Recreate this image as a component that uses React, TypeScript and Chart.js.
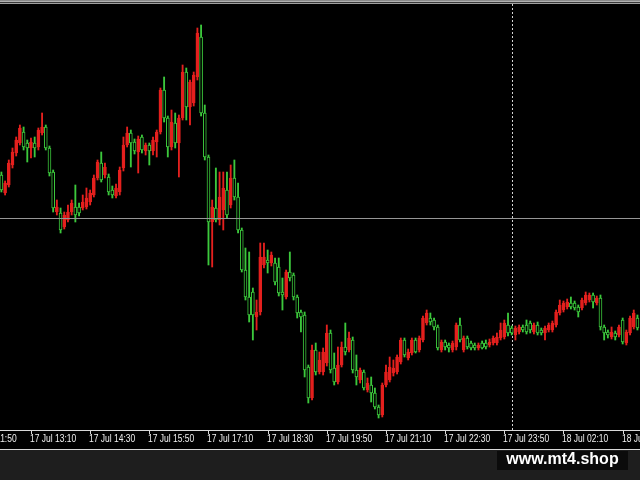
import React, { useEffect, useRef } from 'react';
import { Chart, registerables } from 'chart.js';

Chart.register(...registerables);

// ---- Data (M5 candles) ----
const OPEN = [
  1.3255,1.3237,1.3245,1.3265,1.3277,1.3287,1.3298,1.3287,1.3282,1.3287,
  1.3283,1.3297,1.3303,1.3282,1.3258,1.3218,1.3217,1.3203,1.3210,1.3218,
  1.3223,1.3223,1.3222,1.3223,1.3228,1.3235,1.3252,1.3267,1.3255,1.3253,
  1.3240,1.3234,1.3238,1.3262,1.3285,1.3297,1.3288,1.3278,1.3293,1.3279,
  1.3285,1.3279,1.3288,1.3298,1.3340,1.3312,1.3283,1.3307,1.3287,1.3312,
  1.3358,1.3323,1.3327,1.3353,1.3393,1.3317,1.3273,1.3208,1.3222,1.3210,
  1.3220,1.3240,1.3225,1.3252,1.3233,1.3200,1.3160,1.3133,1.3138,1.3113,
  1.3118,1.3165,1.3170,1.3167,1.3167,1.3163,1.3138,1.3133,1.3158,1.3155,
  1.3133,1.3118,1.3115,1.3063,1.3032,1.3080,1.3058,1.3058,1.3067,1.3097,
  1.3062,1.3048,1.3065,1.3083,1.3080,1.3090,1.3060,1.3050,1.3058,1.3040,
  1.3045,1.3037,1.3023,1.3015,1.3045,1.3050,1.3057,1.3058,1.3068,1.3090,
  1.3072,1.3077,1.3090,1.3080,1.3090,1.3107,1.3112,1.3110,1.3103,1.3080,
  1.3088,1.3085,1.3080,1.3083,1.3105,1.3080,1.3092,1.3087,1.3085,1.3082,
  1.3087,1.3087,1.3085,1.3087,1.3087,1.3092,1.3093,1.3105,1.3102,1.3095,
  1.3098,1.3103,1.3105,1.3107,1.3098,1.3105,1.3100,1.3097,1.3100,1.3100,
  1.3105,1.3117,1.3120,1.3123,1.3127,1.3127,1.3123,1.3122,1.3127,1.3130,
  1.3135,1.3127,1.3132,1.3103,1.3098,1.3093,1.3097,1.3095,1.3110,1.3087,
  1.3097,1.3103,1.3112,
];

const HIGH = [
  1.3258,1.3249,1.3270,1.3282,1.3293,1.3305,1.3303,1.3290,1.3292,1.3293,
  1.3302,1.3317,1.3305,1.3284,1.3260,1.3230,1.3222,1.3218,1.3225,1.3230,
  1.3245,1.3227,1.3235,1.3242,1.3240,1.3255,1.3270,1.3278,1.3267,1.3256,
  1.3244,1.3246,1.3263,1.3293,1.3303,1.3300,1.3291,1.3294,1.3295,1.3287,
  1.3287,1.3293,1.3300,1.3342,1.3353,1.3314,1.3320,1.3317,1.3315,1.3365,
  1.3362,1.3350,1.3358,1.3402,1.3405,1.3325,1.3275,1.3230,1.3262,1.3258,
  1.3258,1.3258,1.3265,1.3270,1.3247,1.3202,1.3182,1.3178,1.3142,1.3130,
  1.3187,1.3187,1.3180,1.3178,1.3172,1.3172,1.3152,1.3160,1.3178,1.3157,
  1.3135,1.3120,1.3118,1.3065,1.3085,1.3087,1.3078,1.3082,1.3105,1.3100,
  1.3077,1.3083,1.3088,1.3107,1.3098,1.3093,1.3075,1.3062,1.3060,1.3052,
  1.3053,1.3042,1.3025,1.3047,1.3065,1.3073,1.3070,1.3075,1.3092,1.3092,
  1.3081,1.3092,1.3092,1.3094,1.3114,1.3120,1.3117,1.3112,1.3105,1.3090,
  1.3090,1.3087,1.3089,1.3107,1.3112,1.3094,1.3094,1.3089,1.3087,1.3087,
  1.3089,1.3090,1.3091,1.3094,1.3097,1.3107,1.3110,1.3117,1.3104,1.3104,
  1.3105,1.3105,1.3110,1.3109,1.3107,1.3108,1.3102,1.3104,1.3107,1.3109,
  1.3120,1.3130,1.3129,1.3131,1.3133,1.3129,1.3125,1.3132,1.3138,1.3137,
  1.3137,1.3134,1.3135,1.3105,1.3100,1.3103,1.3099,1.3105,1.3112,1.3100,
  1.3114,1.3120,1.3115,
];

const LOW = [
  1.3238,1.3235,1.3243,1.3262,1.3274,1.3285,1.3280,1.3268,1.3272,1.3273,
  1.3280,1.3295,1.3280,1.3254,1.3218,1.3215,1.3197,1.3201,1.3208,1.3215,
  1.3208,1.3214,1.3220,1.3221,1.3225,1.3233,1.3250,1.3248,1.3252,1.3235,
  1.3232,1.3232,1.3235,1.3259,1.3283,1.3263,1.3276,1.3257,1.3277,1.3275,
  1.3265,1.3275,1.3273,1.3296,1.3308,1.3273,1.3280,1.3282,1.3253,1.3310,
  1.3310,1.3305,1.3324,1.3350,1.3314,1.3270,1.3165,1.3163,1.3208,1.3205,
  1.3200,1.3212,1.3222,1.3230,1.3197,1.3158,1.3130,1.3108,1.3090,1.3100,
  1.3115,1.3162,1.3157,1.3164,1.3145,1.3134,1.3120,1.3131,1.3149,1.3130,
  1.3112,1.3098,1.3053,1.3027,1.3030,1.3055,1.3056,1.3055,1.3064,1.3057,
  1.3045,1.3046,1.3063,1.3075,1.3078,1.3057,1.3045,1.3047,1.3040,1.3038,
  1.3028,1.3021,1.3012,1.3013,1.3043,1.3048,1.3054,1.3056,1.3066,1.3073,
  1.3070,1.3075,1.3077,1.3078,1.3088,1.3105,1.3105,1.3100,1.3080,1.3078,
  1.3080,1.3078,1.3078,1.3080,1.3088,1.3078,1.3081,1.3080,1.3080,1.3080,
  1.3081,1.3081,1.3083,1.3085,1.3085,1.3090,1.3091,1.3094,1.3095,1.3090,
  1.3096,1.3098,1.3096,1.3097,1.3096,1.3095,1.3095,1.3090,1.3098,1.3098,
  1.3103,1.3115,1.3118,1.3121,1.3121,1.3120,1.3113,1.3120,1.3125,1.3128,
  1.3122,1.3125,1.3100,1.3090,1.3092,1.3091,1.3090,1.3093,1.3086,1.3085,
  1.3095,1.3101,1.3100,
];

const CLOSE = [
  1.3240,1.3247,1.3267,1.3278,1.3290,1.3302,1.3283,1.3282,1.3288,1.3282,
  1.3300,1.3303,1.3282,1.3257,1.3222,1.3223,1.3200,1.3215,1.3218,1.3227,
  1.3215,1.3217,1.3228,1.3232,1.3237,1.3252,1.3268,1.3250,1.3263,1.3238,
  1.3235,1.3242,1.3260,1.3285,1.3297,1.3287,1.3279,1.3291,1.3280,1.3285,
  1.3279,1.3290,1.3298,1.3340,1.3312,1.3283,1.3308,1.3287,1.3312,1.3358,
  1.3323,1.3348,1.3355,1.3397,1.3317,1.3273,1.3208,1.3223,1.3210,1.3233,
  1.3242,1.3215,1.3252,1.3233,1.3200,1.3160,1.3133,1.3115,1.3115,1.3118,
  1.3173,1.3173,1.3167,1.3175,1.3148,1.3137,1.3135,1.3158,1.3152,1.3133,
  1.3117,1.3113,1.3060,1.3032,1.3080,1.3058,1.3070,1.3078,1.3097,1.3060,
  1.3048,1.3065,1.3083,1.3078,1.3092,1.3060,1.3053,1.3060,1.3042,1.3047,
  1.3037,1.3023,1.3015,1.3045,1.3058,1.3063,1.3062,1.3073,1.3090,1.3075,
  1.3078,1.3090,1.3078,1.3092,1.3112,1.3117,1.3108,1.3103,1.3082,1.3088,
  1.3083,1.3082,1.3087,1.3105,1.3090,1.3092,1.3083,1.3082,1.3082,1.3085,
  1.3082,1.3083,1.3088,1.3092,1.3093,1.3100,1.3107,1.3097,1.3097,1.3102,
  1.3103,1.3100,1.3098,1.3100,1.3105,1.3097,1.3097,1.3102,1.3105,1.3107,
  1.3118,1.3125,1.3127,1.3128,1.3123,1.3122,1.3118,1.3130,1.3135,1.3135,
  1.3128,1.3132,1.3103,1.3097,1.3095,1.3098,1.3093,1.3103,1.3088,1.3098,
  1.3112,1.3117,1.3102,
];

// time-axis labels: bar index -> text
const TICK_INDEX = [-8, 8, 24, 40, 56, 72, 88, 104, 120, 136, 152, 168];
const TICK_LABELS = [
  '17 Jul 11:50', '17 Jul 13:10', '17 Jul 14:30', '17 Jul 15:50',
  '17 Jul 17:10', '17 Jul 18:30', '17 Jul 19:50', '17 Jul 21:10',
  '17 Jul 22:30', '17 Jul 23:50', '18 Jul 02:10', '18 Jul 03:30',
];

const H_LINE_PRICE = 1.3212;   // horizontal line object
const DAY_SEPARATOR_INDEX = 138; // period separator (18 Jul 00:00)
const WATERMARK = 'www.mt4.shop';

const BULL_COLOR = '#e4201e';
const BEAR_COLOR = '#3cc83c';

const mt4Plugin = {
  id: 'mt4Frame',
  beforeDraw(chart: any) {
    const { ctx, width, height } = chart;
    ctx.save();
    ctx.fillStyle = '#000000';
    ctx.fillRect(0, 0, width, 450);
    ctx.fillStyle = '#1e1e1e';
    ctx.fillRect(0, 450, width, height - 450);
    ctx.restore();
  },
  beforeDatasetsDraw(chart: any) {
    const { ctx } = chart;
    const xs = chart.scales.x;
    const px = Math.round(xs.getPixelForValue(DAY_SEPARATOR_INDEX)) + 0.5;
    ctx.save();
    ctx.strokeStyle = '#d4d4d4';
    ctx.lineWidth = 1;
    ctx.setLineDash([2, 2]);
    ctx.beginPath();
    ctx.moveTo(px, 4);
    ctx.lineTo(px, 430);
    ctx.stroke();
    ctx.restore();
  },
  afterDatasetsDraw(chart: any) {
    const { ctx, width } = chart;
    const ys = chart.scales.y;
    const py = Math.round(ys.getPixelForValue(H_LINE_PRICE)) + 0.5;
    ctx.save();
    ctx.strokeStyle = '#969696';
    ctx.lineWidth = 1;
    ctx.beginPath();
    ctx.moveTo(0, py);
    ctx.lineTo(width, py);
    ctx.stroke();
    ctx.restore();
  },
  afterDraw(chart: any) {
    const { ctx, width } = chart;
    const xs = chart.scales.x;
    ctx.save();
    // top frame
    ctx.fillStyle = '#8a8a8a'; ctx.fillRect(0, 0, width, 1);
    ctx.fillStyle = '#b0b0b0'; ctx.fillRect(0, 1, width, 1);
    ctx.fillStyle = '#3a3a3a'; ctx.fillRect(0, 2, width, 1);
    ctx.fillStyle = '#a0a0a0'; ctx.fillRect(0, 3, width, 1);
    // time axis
    ctx.strokeStyle = '#d8d8d8';
    ctx.lineWidth = 1;
    ctx.beginPath();
    ctx.moveTo(0, 430.5); ctx.lineTo(width, 430.5);
    ctx.moveTo(0, 449.5); ctx.lineTo(width, 449.5);
    ctx.stroke();
    ctx.font = '10px "Liberation Sans", Arial, sans-serif';
    ctx.fillStyle = '#f0f0f0';
    ctx.textBaseline = 'middle';
    ctx.textAlign = 'left';
    TICK_INDEX.forEach((k, i) => {
      const px = Math.round(xs.getPixelForValue(k)) + 0.5;
      ctx.beginPath();
      ctx.moveTo(px, 431); ctx.lineTo(px, 434);
      ctx.stroke();
      ctx.save();
      ctx.translate(px - 1.5, 439);
      ctx.scale(0.85, 1);
      ctx.fillText(TICK_LABELS[i], 0, 0);
      ctx.restore();
    });
    // watermark
    ctx.fillStyle = '#0b0b0b';
    ctx.fillRect(497, 451, 131, 19);
    ctx.font = 'bold 16px "Liberation Sans", Arial, sans-serif';
    ctx.fillStyle = '#ffffff';
    ctx.textAlign = 'center';
    ctx.textBaseline = 'alphabetic';
    ctx.fillText(WATERMARK, 562.5, 464);
    ctx.restore();
  },
};

export default function App() {
  const ref = useRef<HTMLCanvasElement>(null);

  useEffect(() => {
    document.body.style.margin = '0';
    document.body.style.background = '#1e1e1e';
    const canvas = ref.current;
    if (!canvas) return;
    const idx = OPEN.map((_, i) => i);
    const bull = idx.map((i) => CLOSE[i] >= OPEN[i]);
    const lineColors = bull.map((b) => (b ? BULL_COLOR : BEAR_COLOR));
    const fillColors = bull.map((b) => (b ? BULL_COLOR : '#000000'));
    const bodies = idx.map((i) => ({ x: i, y: [Math.min(OPEN[i], CLOSE[i]), Math.max(OPEN[i], CLOSE[i])] }));
    const wicks = idx.map((i) => ({ x: i, y: [LOW[i], HIGH[i]] }));

    const chart = new Chart(canvas, {
      type: 'bar',
      data: {
        datasets: [
          {
            label: 'body',
            data: bodies as any,
            backgroundColor: fillColors,
            borderColor: lineColors,
            borderWidth: 1,
            borderSkipped: false,
            barThickness: 3,
            grouped: false,
            order: 0,
          } as any,
          {
            label: 'wick',
            data: wicks as any,
            backgroundColor: lineColors,
            borderWidth: 0,
            barThickness: 1.2,
            grouped: false,
            order: 1,
          } as any,
        ],
      },
      options: {
        animation: false,
        responsive: false,
        events: [],
        layout: { padding: { left: 0, right: 0, top: 0, bottom: 50 } },
        plugins: { legend: { display: false }, tooltip: { enabled: false } },
        scales: {
          x: { type: 'linear', min: -0.3786, max: 172.69, display: false, offset: false },
          y: { type: 'linear', min: 1.3, max: 1.343, display: false },
        },
      } as any,
      plugins: [mt4Plugin],
    });
    return () => chart.destroy();
  }, []);

  return (
    <div style={{ position: 'absolute', left: 0, top: 0, width: 640, height: 480 }}>
      <canvas ref={ref} width={640} height={480} style={{ display: 'block', width: 640, height: 480 }} />
    </div>
  );
}
